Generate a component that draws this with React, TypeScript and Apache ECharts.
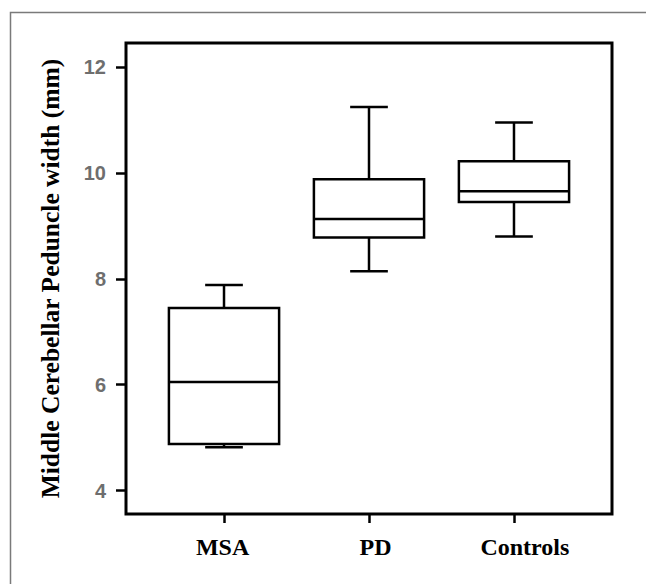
import React, { useEffect, useRef } from "react";
import * as echarts from "echarts";

const categories = ["MSA", "PD", "Controls"];
const positions = [1, 2, 3];
const labelPositions = [0.99, 2.045, 3.075];
const mins = [4.82, 8.14, 8.8];
const q1s = [4.88, 8.78, 9.45];
const medians = [6.05, 9.13, 9.65];
const q3s = [7.45, 9.88, 10.22];
const maxs = [7.88, 11.24, 10.95];
const yTicks = [4, 6, 8, 10, 12];

const yTitle = "Middle Cerebellar Peduncle width (mm)";

export default function App() {
  const ref = useRef<HTMLDivElement>(null);
  useEffect(() => {
    if (!ref.current) return;
    const chart = echarts.init(ref.current, null, { renderer: "svg" });
    const data = categories.map((c, i) => [positions[i], mins[i], q1s[i], medians[i], q3s[i], maxs[i]]);
    const option: any = {
      animation: false,
      backgroundColor: "#ffffff",
      graphic: [
        {
          type: "polyline",
          shape: { points: [[10.5, 584], [10.5, 12.5], [646, 12.5]] },
          style: { stroke: "#7a7a7a", lineWidth: 1.5, fill: null },
          silent: true,
        },
      ],
      grid: {
        left: 126,
        top: 43,
        right: 34,
        bottom: 70,
        show: true,
        borderColor: "#000",
        borderWidth: 3,
        backgroundColor: "transparent",
      },
      xAxis: {
        type: "value",
        min: 0.324,
        max: 3.676,
        splitLine: { show: false },
        axisLine: { show: false },
        axisTick: {
          show: true,
          customValues: positions,
          length: 9,
          inside: false,
          lineStyle: { color: "#000", width: 2.5 },
        },
        axisLabel: {
          customValues: labelPositions,
          margin: 21,
          color: "#000",
          fontFamily: "'Liberation Serif', 'Times New Roman', serif",
          fontWeight: "bold",
          fontSize: 24,
          formatter: (v: number) => categories[Math.round(v) - 1] ?? "",
        },
      },
      yAxis: {
        type: "value",
        min: 3.56,
        max: 12.45,
        splitLine: { show: false },
        axisLine: { show: false },
        axisTick: {
          show: true,
          customValues: yTicks,
          length: 10,
          inside: false,
          lineStyle: { color: "#000", width: 2.5 },
        },
        axisLabel: {
          customValues: yTicks,
          margin: 20,
          color: "#6e6e6e",
          fontFamily: "'Liberation Sans', Arial, sans-serif",
          fontWeight: "bold",
          fontSize: 20,
        },
        name: yTitle,
        nameLocation: "middle",
        nameRotate: 90,
        nameGap: 63,
        nameTextStyle: {
          color: "#000",
          fontFamily: "'Liberation Serif', 'Times New Roman', serif",
          fontWeight: "bold",
          fontSize: 25.5,
        },
      },
      series: [
        {
          type: "custom",
          data,
          encode: { x: 0, y: [1, 2, 3, 4, 5] },
          renderItem: (params: any, api: any) => {
            const x = api.value(0);
            const vMin = api.value(1);
            const vQ1 = api.value(2);
            const vMed = api.value(3);
            const vQ3 = api.value(4);
            const vMax = api.value(5);
            const boxW = api.size([0.76, 0])[0];
            const capW = api.size([0.26, 0])[0];
            const pMin = api.coord([x, vMin]);
            const pQ1 = api.coord([x, vQ1]);
            const pMed = api.coord([x, vMed]);
            const pQ3 = api.coord([x, vQ3]);
            const pMax = api.coord([x, vMax]);
            const cx = pMed[0];
            const style = { stroke: "#000", lineWidth: 2.5, fill: null };
            return {
              type: "group",
              children: [
                {
                  type: "rect",
                  shape: { x: cx - boxW / 2, y: pQ3[1], width: boxW, height: pQ1[1] - pQ3[1] },
                  style: { stroke: "#000", lineWidth: 2.5, fill: "transparent" },
                },
                { type: "line", shape: { x1: cx - boxW / 2, y1: pMed[1], x2: cx + boxW / 2, y2: pMed[1] }, style },
                { type: "line", shape: { x1: cx, y1: pQ3[1], x2: cx, y2: pMax[1] }, style },
                { type: "line", shape: { x1: cx, y1: pQ1[1], x2: cx, y2: pMin[1] }, style },
                { type: "line", shape: { x1: cx - capW / 2, y1: pMax[1], x2: cx + capW / 2, y2: pMax[1] }, style },
                { type: "line", shape: { x1: cx - capW / 2, y1: pMin[1], x2: cx + capW / 2, y2: pMin[1] }, style },
              ],
            };
          },
        },
      ],
    };
    chart.setOption(option);
    return () => chart.dispose();
  }, []);
  return (
    <div
      ref={ref}
      style={{ position: "absolute", left: 0, top: 0, width: 646, height: 584 }}
    />
  );
}
